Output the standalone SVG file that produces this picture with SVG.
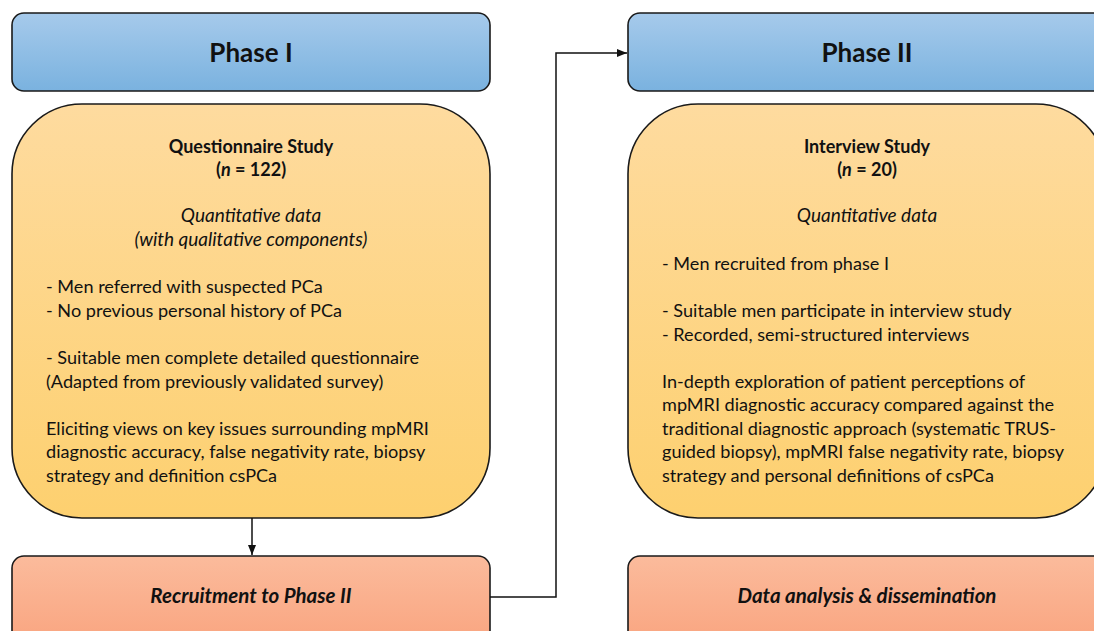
<svg xmlns="http://www.w3.org/2000/svg" width="1094" height="631" viewBox="0 0 1094 631">
  <defs>
    <linearGradient id="gBlue" x1="0" y1="0" x2="0" y2="1">
      <stop offset="0" stop-color="#a6caeb"/>
      <stop offset="1" stop-color="#7ab2df"/>
    </linearGradient>
    <linearGradient id="gGold" x1="0" y1="0" x2="0" y2="1">
      <stop offset="0" stop-color="#fedb9f"/>
      <stop offset="1" stop-color="#fdd06f"/>
    </linearGradient>
    <linearGradient id="gSalmon" x1="0" y1="0" x2="0" y2="1">
      <stop offset="0" stop-color="#fbbb9c"/>
      <stop offset="1" stop-color="#f9a47f"/>
    </linearGradient>
    <marker id="arrow" viewBox="0 0 10 10" refX="10" refY="5" markerWidth="10" markerHeight="10" markerUnits="userSpaceOnUse" orient="auto">
      <path d="M0,1 L10,5 L0,9 Z" fill="#111"/>
    </marker>
  </defs>
  <style>
    .box { stroke: #1a1a1a; stroke-width: 1.6; }
    .blue { fill: url(#gBlue); }
    .gold { fill: url(#gGold); }
    .salmon { fill: url(#gSalmon); }
    text { font-family: Lato, "Open Sans", "Liberation Sans", sans-serif; fill: #111; }
    .title { font-size: 26px; font-weight: bold; text-anchor: middle; }
    .head { font-size: 18px; font-weight: bold; text-anchor: middle; }
    .mid { font-size: 19px; font-style: italic; text-anchor: middle; }
    .body { font-size: 18.1px; }
    .foot { font-size: 20.5px; font-weight: bold; font-style: italic; text-anchor: middle; }
    .wire { fill: none; stroke: #111; stroke-width: 1.5; }
  </style>

  <rect width="1094" height="631" fill="#ffffff"/>

  <g id="phase1">
    <rect class="box blue" x="12" y="13" width="478" height="78" rx="12"/>
    <text class="title" x="251" y="62">Phase I</text>
  </g>

  <g id="phase2">
    <rect class="box blue" x="628" y="13" width="478" height="78" rx="12"/>
    <text class="title" x="867" y="62">Phase II</text>
  </g>

  <g id="questionnaire">
    <rect class="box gold" x="12" y="104" width="478" height="414" rx="70"/>
    <text class="head" x="251" y="153">Questionnaire Study</text>
    <text class="head" x="251" y="176">(<tspan font-style="italic">n</tspan> = 122)</text>
    <text class="mid" x="251" y="222">Quantitative data</text>
    <text class="mid" x="251" y="246">(with qualitative components)</text>
    <text class="body" x="46" y="293">- Men referred with suspected PCa</text>
    <text class="body" x="46" y="317">- No previous personal history of PCa</text>
    <text class="body" x="46" y="364">- Suitable men complete detailed questionnaire</text>
    <text class="body" x="46" y="388">(Adapted from previously validated survey)</text>
    <text class="body" x="46" y="435">Eliciting views on key issues surrounding mpMRI</text>
    <text class="body" x="46" y="458">diagnostic accuracy, false negativity rate, biopsy</text>
    <text class="body" x="46" y="482">strategy and definition csPCa</text>
  </g>

  <g id="interview">
    <rect class="box gold" x="628" y="104" width="478" height="414" rx="70"/>
    <text class="head" x="867" y="153">Interview Study</text>
    <text class="head" x="867" y="176">(<tspan font-style="italic">n</tspan> = 20)</text>
    <text class="mid" x="867" y="222">Quantitative data</text>
    <text class="body" x="662" y="270">- Men recruited from phase I</text>
    <text class="body" x="662" y="317">- Suitable men participate in interview study</text>
    <text class="body" x="662" y="341">- Recorded, semi-structured interviews</text>
    <text class="body" x="662" y="388">In-depth exploration of patient perceptions of</text>
    <text class="body" x="662" y="411">mpMRI diagnostic accuracy compared against the</text>
    <text class="body" x="662" y="435">traditional diagnostic approach (systematic TRUS-</text>
    <text class="body" x="662" y="458">guided biopsy), mpMRI false negativity rate, biopsy</text>
    <text class="body" x="662" y="482">strategy and personal definitions of csPCa</text>
  </g>

  <g id="recruitment">
    <rect class="box salmon" x="12" y="556" width="478" height="90" rx="12"/>
    <text class="foot" x="251" y="603">Recruitment to Phase II</text>
  </g>

  <g id="analysis">
    <rect class="box salmon" x="628" y="556" width="478" height="90" rx="12"/>
    <text class="foot" x="867" y="603">Data analysis &amp; dissemination</text>
  </g>

  <g id="connectors">
    <line class="wire" x1="252" y1="518" x2="252" y2="555" marker-end="url(#arrow)"/>
    <polyline class="wire" points="490,597 556,597 556,53 627,53" marker-end="url(#arrow)"/>
  </g>
</svg>
